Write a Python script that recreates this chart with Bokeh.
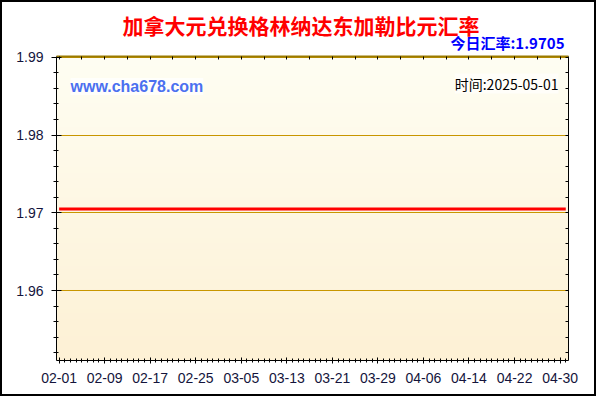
import numpy as np
import pandas as pd
from bokeh.plotting import figure
from bokeh.models import LinearAxis, FixedTicker, Label, Range1d, Title
from bokeh.embed import file_html
from bokeh.resources import INLINE

# ---------------- data ----------------
title_text = "加拿大元兑换格林纳达东加勒比元汇率"
rate_text = "今日汇率:1.9705"
site_text = "www.cha678.com"
time_text = "时间:2025-05-01"

dates = ["2025-02-01", "2025-05-01"]
rates = [1.9705, 1.9705]

x_tick_labels = ["02-01", "02-09", "02-17", "02-25", "03-05", "03-13",
                 "03-21", "03-29", "04-06", "04-14", "04-22", "04-30"]
y_tick_values = [1.96, 1.97, 1.98, 1.99]
y_tick_labels = ["1.96", "1.97", "1.98", "1.99"]

# ---------------- layout constants ----------------
START = pd.Timestamp("2025-02-01")
X0, X1 = -0.46, 89.48
Y0, Y1 = 1.9510, 1.9901
BORDER = 2  # page border width; canvas origin sits at (BORDER, BORDER)


def cx(px):
    return px - BORDER


def cy(py):
    return py - BORDER


xd = [(pd.Timestamp(d) - START).days for d in dates]
label_days = [(pd.Timestamp("2025-" + s) - START).days for s in x_tick_labels]
quarter_days = list(range(0, label_days[-1] + 1, 4))
day_ticks = list(range(0, int(X1) + 1))
y_minor = [round(v, 3) for v in np.arange(1.952, 1.9901, 0.002)]

p = figure(width=596, height=396, x_range=Range1d(X0, X1), y_range=Range1d(Y0, Y1),
           output_backend="svg", toolbar_location=None,
           min_border_left=54, min_border_right=30, min_border_top=54, min_border_bottom=38,
           background_fill_color="#FFFFFF", border_fill_color="#FFFFFF")
p.title.visible = False
p.outline_line_color = None
p.styles = {"border": "2px solid #000000"}

# background gradient
H = 240
top = np.array([255, 254, 243])
bot = np.array([253, 241, 213])
t = np.linspace(0, 1, H)[:, None]
cols = (bot * (1 - t) + top * t).astype(np.uint8)  # row 0 = bottom
img = np.empty((H, 1), dtype=np.uint32)
view = img.view(dtype=np.uint8).reshape((H, 1, 4))
view[:, 0, 0] = cols[:, 0]
view[:, 0, 1] = cols[:, 1]
view[:, 0, 2] = cols[:, 2]
view[:, 0, 3] = 255
p.image_rgba(image=[img], x=X0, y=Y0, dw=X1 - X0, dh=Y1 - Y0, level="image")

# grid
p.xgrid.visible = False
p.ygrid.ticker = FixedTicker(ticks=y_tick_values)
p.ygrid.grid_line_color = "#C89600"
p.ygrid.grid_line_width = 1

# line
p.line(xd, rates, line_color="#FF0000", line_width=3)

label_color = "#14143C"
font = "Liberation Sans"

# bottom axis
xa = p.xaxis[0]
xa.ticker = FixedTicker(ticks=label_days, minor_ticks=day_ticks)
xa.major_label_overrides = dict(zip(label_days, x_tick_labels))
xa.major_tick_in = 3
xa.major_tick_out = 3
xa.minor_tick_in = 2
xa.minor_tick_out = 2
xa.major_label_standoff = 9
xa.major_label_text_font = font
xa.major_label_text_font_size = "14px"
xa.major_label_text_color = label_color
xa.axis_line_color = "#000000"

# left axis
ya = p.yaxis[0]
ya.ticker = FixedTicker(ticks=y_tick_values, minor_ticks=y_minor)
ya.major_label_overrides = dict(zip(y_tick_values, y_tick_labels))
ya.major_tick_in = 5
ya.major_tick_out = 5
ya.minor_tick_in = 2
ya.minor_tick_out = 3
ya.major_label_standoff = 8
ya.major_label_text_font = font
ya.major_label_text_font_size = "14px"
ya.major_label_text_color = label_color

# top axis (ticks only)
ta = LinearAxis(ticker=FixedTicker(ticks=[], minor_ticks=quarter_days),
                minor_tick_in=3, minor_tick_out=0, axis_line_color="#9A7A00",
                axis_line_width=2, major_label_standoff=0)
p.add_layout(ta, "above")

# right axis (ticks only)
ra = LinearAxis(ticker=FixedTicker(ticks=[], minor_ticks=y_minor),
                minor_tick_in=3, minor_tick_out=0, major_label_standoff=0)
p.add_layout(ra, "right")

# titles (stacked above the top axis)
p.add_layout(Title(text=rate_text, align="right", offset=4, standoff=8,
                   text_font="Noto Sans CJK SC", text_font_style="bold",
                   text_font_size="15px", text_color="#0000FF"), "above")
p.add_layout(Title(text=title_text, align="left", offset=66, standoff=-29,
                   text_font="Noto Sans CJK SC", text_font_style="bold",
                   text_font_size="21px", text_color="#FF0000"), "above")

# texts inside the frame (canvas pixel positions)
p.add_layout(Label(x=cx(68), y=cy(84), x_units="canvas", y_units="canvas",
                   text=site_text, text_align="left",
                   text_baseline="middle", text_font=font,
                   text_font_style="bold", text_font_size="16px", text_color="#4B70F0",
                   background_fill_color="#FFFFFF", background_fill_alpha=0.7))
p.add_layout(Label(x=cx(556), y=cy(81), x_units="canvas", y_units="canvas",
                   text=time_text, text_align="right",
                   text_baseline="middle", text_font="Noto Sans CJK SC",
                   text_font_size="14px", text_color="#000000",
                   background_fill_color="#FFFFFF", background_fill_alpha=0.6))

open("out.html", "w").write(file_html(p, INLINE))
